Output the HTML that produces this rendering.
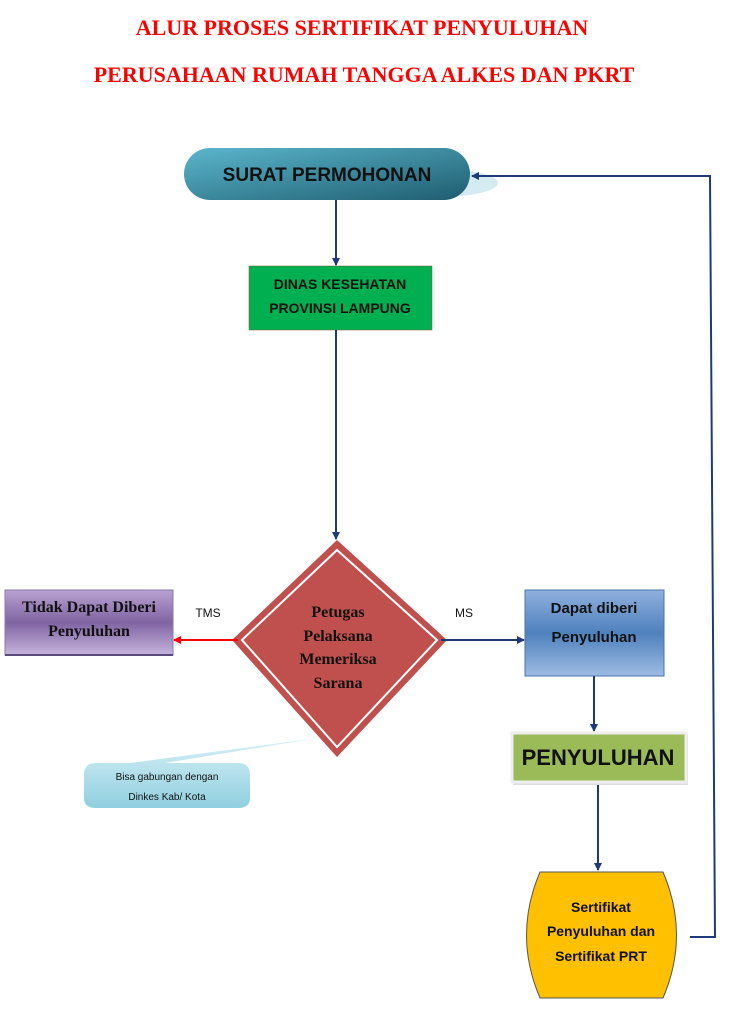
<!DOCTYPE html>
<html><head><meta charset="utf-8"><style>
body{margin:0;background:#fff}
svg{display:block}
.t{font-family:"Liberation Serif",serif;font-weight:bold;fill:#f00;font-size:22px}
.s{font-family:"Liberation Sans",sans-serif;font-weight:bold}
.r{font-family:"Liberation Serif",serif;font-weight:bold}
</style></head><body>
<svg width="731" height="1024" viewBox="0 0 731 1024" xmlns="http://www.w3.org/2000/svg">
<defs>
<linearGradient id="pill" x1="0" y1="0" x2="1" y2="1"><stop offset="0" stop-color="#5bb6cc"/><stop offset="1" stop-color="#1f5d70"/></linearGradient>
<linearGradient id="pur" x1="0" y1="0" x2="0" y2="1"><stop offset="0" stop-color="#b9a2d2"/><stop offset="0.5" stop-color="#8064a2"/><stop offset="1" stop-color="#c6b4dc"/></linearGradient>
<linearGradient id="blu" x1="0" y1="0" x2="0" y2="1"><stop offset="0" stop-color="#8fb0de"/><stop offset="0.5" stop-color="#4f81bd"/><stop offset="1" stop-color="#9dbbe3"/></linearGradient>
<linearGradient id="cal" x1="0" y1="0" x2="0" y2="1"><stop offset="0" stop-color="#d8f0f6"/><stop offset="1" stop-color="#8fcfdf"/></linearGradient>
<marker id="a" markerWidth="8" markerHeight="8" refX="7" refY="4" orient="auto" markerUnits="userSpaceOnUse"><path d="M0,0 L8,4 L0,8 Z" fill="#1f3a7a"/></marker>
<marker id="ar" markerWidth="8" markerHeight="8" refX="7" refY="4" orient="auto" markerUnits="userSpaceOnUse"><path d="M0,0 L8,4 L0,8 Z" fill="#f00"/></marker>
</defs>
<text class="t" x="362" y="35" text-anchor="middle">ALUR PROSES SERTIFIKAT PENYULUHAN</text>
<text class="t" x="364" y="82" text-anchor="middle">PERUSAHAAN RUMAH TANGGA ALKES DAN PKRT</text>

<ellipse cx="440" cy="183" rx="58" ry="14" fill="#d4ebf2"/>
<rect x="184" y="148" width="286" height="52" rx="26" fill="url(#pill)"/>
<text class="s" x="327" y="181" font-size="19" text-anchor="middle" fill="#111">SURAT PERMOHONAN</text>

<line x1="336" y1="200" x2="336" y2="265" stroke="#1f3a7a" stroke-width="2" marker-end="url(#a)"/>
<rect x="249" y="266" width="183" height="64" fill="#00b050" stroke="#7a5c2a" stroke-width="0.5"/>
<text class="s" x="340" y="289" font-size="14" text-anchor="middle" fill="#111">DINAS KESEHATAN</text>
<text class="s" x="340" y="313" font-size="14" text-anchor="middle" fill="#111">PROVINSI LAMPUNG</text>
<line x1="336" y1="330" x2="336" y2="539" stroke="#1f3a7a" stroke-width="2" marker-end="url(#a)"/>

<polygon points="337,540 447,640 337,757 232,640" fill="#c0504d"/>
<polygon points="337,550 437,640 337,747 242,640" fill="none" stroke="#fff" stroke-width="2"/>
<g class="r" font-size="16" text-anchor="middle" fill="#111">
<text x="338" y="617">Petugas</text><text x="338" y="641">Pelaksana</text><text x="338" y="664">Memeriksa</text><text x="338" y="688">Sarana</text></g>

<line x1="238" y1="640" x2="174" y2="640" stroke="#f00" stroke-width="2" marker-end="url(#ar)"/>
<text x="208" y="617" font-family="Liberation Sans,sans-serif" font-size="12" text-anchor="middle" fill="#111">TMS</text>
<rect x="5" y="590" width="168" height="65" fill="url(#pur)" stroke="#8a7aa8"/>
<line x1="5" y1="655" x2="173" y2="655" stroke="#5a4a7a" stroke-width="2"/>
<text class="r" x="89" y="612" font-size="16" text-anchor="middle" fill="#111">Tidak Dapat Diberi</text>
<text class="r" x="89" y="636" font-size="16" text-anchor="middle" fill="#111">Penyuluhan</text>

<line x1="441" y1="640" x2="524" y2="640" stroke="#1f3a7a" stroke-width="2" marker-end="url(#a)"/>
<text x="464" y="617" font-family="Liberation Sans,sans-serif" font-size="12" text-anchor="middle" fill="#111">MS</text>
<rect x="525" y="590" width="139" height="86" fill="url(#blu)" stroke="#4a74aa"/>
<text class="s" x="594" y="613" font-size="15" font-weight="normal" text-anchor="middle" fill="#111">Dapat diberi</text>
<text class="s" x="594" y="642" font-size="15" text-anchor="middle" fill="#111">Penyuluhan</text>

<line x1="594" y1="676" x2="594" y2="731" stroke="#1f3a7a" stroke-width="2" marker-end="url(#a)"/>
<rect x="513" y="735" width="175" height="50" fill="#ddd"/>
<rect x="512" y="733" width="174" height="49" fill="#9bbb59" stroke="#eee" stroke-width="3"/>
<text class="s" x="598" y="765" font-size="22" text-anchor="middle" fill="#111">PENYULUHAN</text>

<line x1="598" y1="785" x2="598" y2="870" stroke="#1f3a7a" stroke-width="2" marker-end="url(#a)"/>
<path d="M540,872 L663,872 Q690,935 663,998 L540,998 Q513,935 540,872 Z" fill="#ffc000" stroke="#555" stroke-width="1"/>
<g class="s" font-size="14" text-anchor="middle" fill="#111">
<text x="601" y="912">Sertifikat</text><text x="601" y="936">Penyuluhan dan</text><text x="601" y="961">Sertifikat PRT</text></g>

<polyline points="690,937 715,937 710,176 472,176" fill="none" stroke="#1f3a7a" stroke-width="2" marker-end="url(#a)"/>

<path d="M96,763 L130,763 L318,738 L165,763 L238,763 Q250,763 250,775 L250,798 Q250,808 238,808 L96,808 Q84,808 84,798 L84,775 Q84,763 96,763 Z" fill="url(#cal)"/>
<text x="167" y="780" font-family="Liberation Sans,sans-serif" font-size="10" text-anchor="middle" fill="#111">Bisa gabungan dengan</text>
<text x="167" y="800" font-family="Liberation Sans,sans-serif" font-size="10" text-anchor="middle" fill="#111">Dinkes Kab/ Kota</text>
</svg>
</body></html>
